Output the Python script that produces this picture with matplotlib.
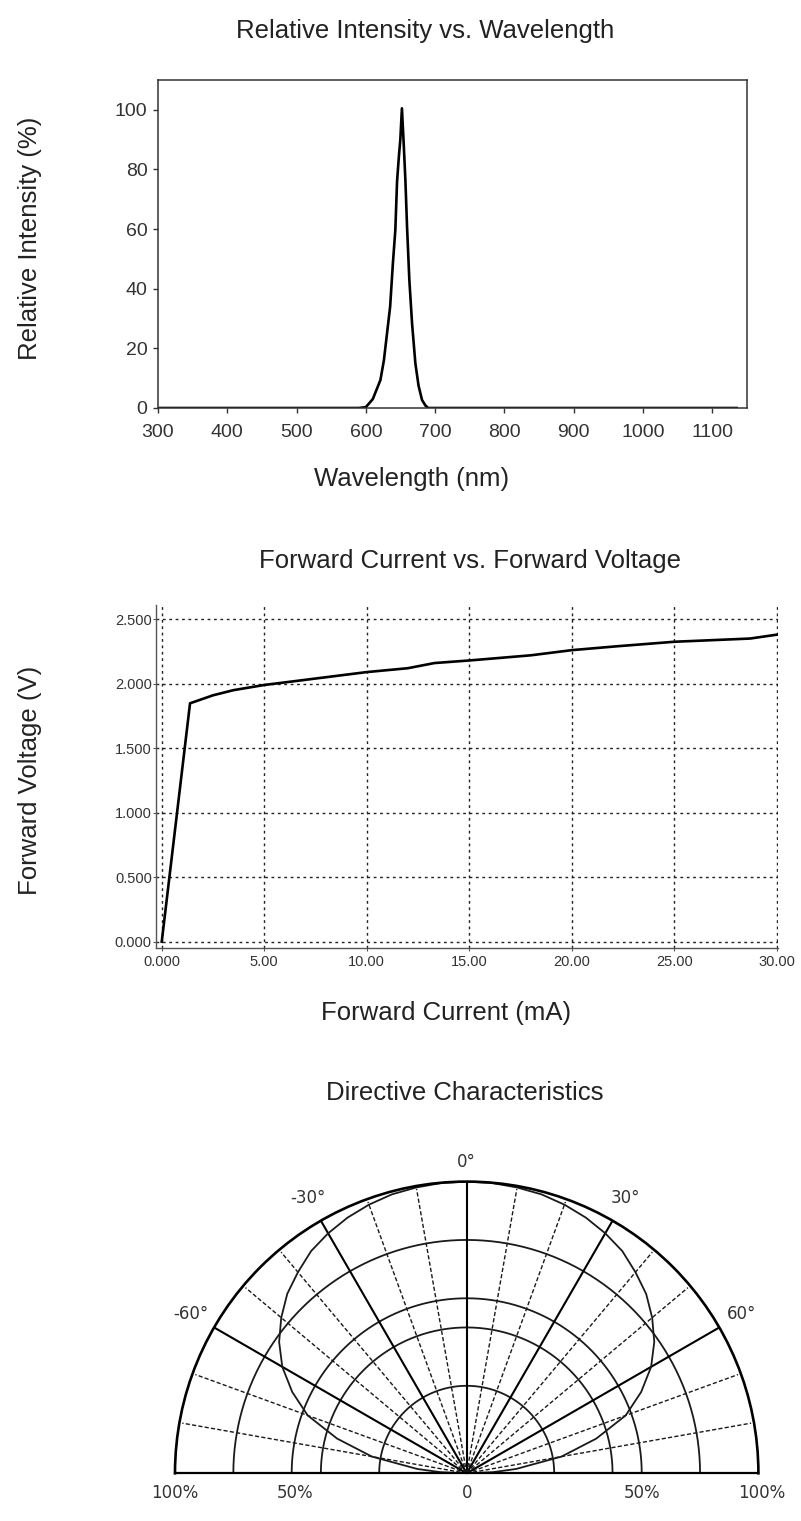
import numpy as np
import matplotlib
matplotlib.use("Agg")
import matplotlib.pyplot as plt

# ---------------- data ----------------
# Relative intensity spectrum
wavelength_nm = [300, 400, 500, 590, 600, 610, 621, 626, 630, 635,
                 639, 642.5, 645, 647.5, 649.7, 652, 654.5, 657, 659.4, 662.7,
                 666.6, 671.4, 676, 681, 686, 690, 700, 800, 900, 1000,
                 1100, 1135]
rel_intensity = [0, 0, 0, 0, 0.3, 3, 9.4, 16, 24, 34,
                 48.6, 59.7, 76, 84, 90, 100.5, 89, 76.5, 60.8, 43,
                 28.5, 15, 7.5, 2.7, 0.8, 0, 0, 0, 0, 0,
                 0, 0]
wl_ticks = [300, 400, 500, 600, 700, 800, 900, 1000, 1100]
ri_ticks = [0, 20, 40, 60, 80, 100]

# Forward current vs forward voltage
forward_current_mA = [0, 1.38, 2.5, 3.5, 5.0, 7.5, 10.0, 12.0, 13.3, 15.0,
                      18.0, 20.0, 22.2, 25.0, 28.7, 30.0]
forward_voltage_V = [0, 1.848, 1.91, 1.95, 1.99, 2.04, 2.09, 2.12, 2.16, 2.18,
                     2.22, 2.26, 2.29, 2.325, 2.35, 2.38]
fc_ticks = [0, 5, 10, 15, 20, 25, 30]
fc_tick_labels = ["0.000", "5.00", "10.00", "15.00", "20.00", "25.00", "30.00"]
fv_ticks = [0, 0.5, 1.0, 1.5, 2.0, 2.5]
fv_tick_labels = ["0.000", "0.500", "1.000", "1.500", "2.000", "2.500"]

# Directive characteristics
pattern_angle_deg = [-90, -87.5, -85, -80, -75, -70, -65, -60, -55, -50, -45, -40,
                     -35, -30, -25, -20, -15, -10, -5, 0,
                     5, 10, 15, 20, 25, 30, 35, 40, 45, 50,
                     55, 60, 65, 70, 75, 80, 85, 87.5, 90]
pattern_rel = [0, 0.09, 0.17, 0.33, 0.46, 0.58, 0.66, 0.73, 0.785, 0.83, 0.87, 0.90,
               0.93, 0.95, 0.967, 0.98, 0.99, 0.995, 0.999, 1.0,
               0.999, 0.995, 0.99, 0.98, 0.967, 0.95, 0.93, 0.90, 0.87, 0.83,
               0.785, 0.73, 0.66, 0.58, 0.46, 0.33, 0.17, 0.09, 0]
ring_radii = [0.3, 0.5, 0.6, 0.8]
solid_spokes_deg = [-60, -30, 0, 30, 60]
dashed_spokes_deg = [-80, -70, -50, -40, -20, -10, 10, 20, 40, 50, 70, 80]
angle_label_deg = [-60, -30, 0, 30, 60]
angle_labels = ["-60°", "-30°", "0°", "30°", "60°"]
radial_label_pos = [-1.0, -0.59, 0.0, 0.60, 1.01]
radial_labels = ["100%", "50%", "0", "50%", "100%"]

# ---------------- figure ----------------
W, H = 801, 1521
fig = plt.figure(figsize=(W / 100, H / 100), dpi=100)
fig.patch.set_facecolor("white")

SANS = ["Liberation Sans", "DejaVu Sans"]
TXT = "#222222"


def fx(px):
    return px / W


def fy(py):
    return 1 - py / H


def box(l, t, r, b):
    return [fx(l), fy(b), fx(r) - fx(l), (b - t) / H]


# ---- chart 1: spectrum ----
ax1 = fig.add_axes(box(158, 80, 747, 408))
ax1.plot(wavelength_nm, rel_intensity, color="black", lw=1.9, solid_joinstyle="round")
ax1.set_xlim(300, 1150)
ax1.set_ylim(0, 110)
ax1.set_xticks(wl_ticks)
ax1.set_yticks(ri_ticks)
for s in ax1.spines.values():
    s.set_color("#333333")
    s.set_linewidth(1.1)
ax1.tick_params(direction="out", length=3.6, width=1.0, color="#333333",
                labelsize=14, labelcolor="#333333")
ax1.tick_params(axis="x", pad=8)
ax1.tick_params(axis="y", pad=4)
for lab in ax1.get_xticklabels() + ax1.get_yticklabels():
    lab.set_family(SANS)

fig.text(fx(425), fy(38), "Relative Intensity vs. Wavelength", ha="center", va="baseline",
         fontsize=18.5, family=SANS, color=TXT)
fig.text(fx(412), fy(479), "Wavelength (nm)", ha="center", va="center",
         fontsize=18.5, family=SANS, color=TXT)
fig.text(fx(30), fy(238), "Relative Intensity (%)", ha="center", va="center", rotation=90,
         fontsize=18.5, family=SANS, color=TXT)

# ---- chart 2: forward current / voltage ----
ax2 = fig.add_axes(box(156, 605, 778, 948.3))
ax2.plot(forward_current_mA, forward_voltage_V, color="black", lw=1.9)
ax2.set_xlim(-0.28, 30.06)
ax2.set_ylim(-0.051, 2.61)
ax2.set_xticks(fc_ticks)
ax2.set_xticklabels(fc_tick_labels)
ax2.set_yticks(fv_ticks)
ax2.set_yticklabels(fv_tick_labels)
ax2.spines["top"].set_visible(False)
ax2.spines["right"].set_visible(False)
for k in ("left", "bottom"):
    ax2.spines[k].set_color("#555555")
    ax2.spines[k].set_linewidth(1.0)
ax2.grid(True, color="#222222", linestyle=(0, (2.0, 2.6)), linewidth=1.0)
ax2.set_axisbelow(True)
ax2.tick_params(direction="out", length=2.5, width=0.8, color="#555555",
                labelsize=10.5, labelcolor="#333333")
ax2.tick_params(axis="x", pad=2)
ax2.tick_params(axis="y", pad=0.5)
for lab in ax2.get_xticklabels() + ax2.get_yticklabels():
    lab.set_family(SANS)

fig.text(fx(470), fy(568), "Forward Current vs. Forward Voltage", ha="center", va="baseline",
         fontsize=18.5, family=SANS, color=TXT)
fig.text(fx(446), fy(1013), "Forward Current (mA)", ha="center", va="center",
         fontsize=18.5, family=SANS, color=TXT)
fig.text(fx(30), fy(780), "Forward Voltage (V)", ha="center", va="center", rotation=90,
         fontsize=18.5, family=SANS, color=TXT)

# ---- chart 3: directive characteristics (polar half) ----
cx, cy, R = 466.7, 1473.3, 291.7
side = 2 * R
left_px = cx - R
bottom_from_bottom = (H - cy) - R / 2
ax3 = fig.add_axes([left_px / W, bottom_from_bottom / H, side / W, side / H],
                   projection="polar")
ax3.set_theta_zero_location("N")
ax3.set_theta_direction(-1)
ax3.set_thetamin(-90)
ax3.set_thetamax(90)
ax3.set_ylim(0, 1)
ax3.set_xticks([])
ax3.set_yticks([])
ax3.grid(False)
ax3.patch.set_alpha(0)
ax3.spines["polar"].set_linewidth(1.9)
ax3.spines["polar"].set_color("black")
for k in ("start", "end"):
    ax3.spines[k].set_linewidth(1.6)
    ax3.spines[k].set_color("black")
ax3.spines["inner"].set_visible(False)

arc_theta = np.linspace(-np.pi / 2, np.pi / 2, 361)
for rr in ring_radii:
    ax3.plot(arc_theta, np.full_like(arc_theta, rr), color="#1a1a1a", lw=1.3)
for d in solid_spokes_deg:
    ax3.plot([np.deg2rad(d)] * 2, [0, 1], color="black", lw=1.5)
for d in dashed_spokes_deg:
    ax3.plot([np.deg2rad(d)] * 2, [0, 0.99], color="#1a1a1a", lw=1.0,
             linestyle=(0, (3.0, 1.6)))
ax3.plot(np.deg2rad(pattern_angle_deg), pattern_rel, color="#1a1a1a", lw=1.3)

for d, lab in zip(angle_label_deg, angle_labels):
    rr = 1.068 if d == 0 else 1.09
    ax3.text(np.deg2rad(d), rr, lab, ha="center", va="center", fontsize=12,
             family="DejaVu Sans", color="#333333", clip_on=False)
for p, lab in zip(radial_label_pos, radial_labels):
    th = np.deg2rad(-90) if p < 0 else np.deg2rad(90)
    ax3.annotate(lab, xy=(th, abs(p)), xytext=(0, -20), textcoords="offset pixels",
                 ha="center", va="center", fontsize=12, family="DejaVu Sans",
                 color="#333333", annotation_clip=False)

fig.text(fx(465), fy(1093), "Directive Characteristics", ha="center", va="center",
         fontsize=18.5, family=SANS, color=TXT)

fig.savefig("out.png", dpi=100, facecolor="white")
